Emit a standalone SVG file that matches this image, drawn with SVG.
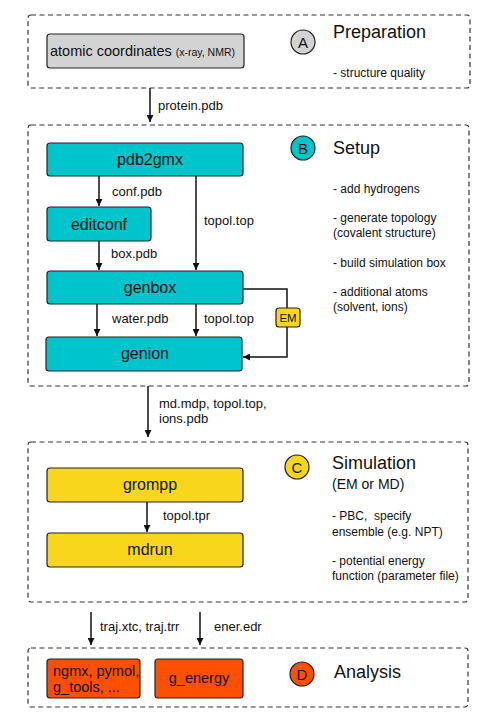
<svg xmlns="http://www.w3.org/2000/svg" width="490" height="725" viewBox="0 0 490 725">
<defs>
<marker id="ah" viewBox="0 0 10 10" refX="10" refY="5" markerWidth="7" markerHeight="7" markerUnits="userSpaceOnUse" orient="auto"><path d="M0,0 L10,5 L0,10 z" fill="#111"/></marker>
<style>
.stage{fill:none;stroke:#333;stroke-width:1.2;stroke-dasharray:5 3.5}
.n{stroke:#222;stroke-width:1.2}
.cyan{fill:#00C4CC}.yel{fill:#F8D61C}.org{fill:#FF5000}.gray{fill:#D3D3D3}
text{font-family:"Liberation Sans",Arial,sans-serif;fill:#111}
.t{font-size:16px;text-anchor:middle}
.lbl{font-size:13px}
.note{font-size:12px}
.head{font-size:18px}
.c{stroke:#111;stroke-width:1.5;fill:none}
.ct{font-size:15px;text-anchor:middle}
</style>
</defs>
<g id="stageA"><rect class="stage" x="28" y="15" width="442" height="73" rx="3"/>
<circle class="n gray" cx="303" cy="42" r="12"/><text class="ct" x="303" y="47.5">A</text>
<text class="head" x="333" y="38">Preparation</text>
<text class="note" x="333" y="77">- structure quality</text></g>
<g id="stageB"><rect class="stage" x="28" y="125" width="441" height="261" rx="3"/>
<circle class="n cyan" cx="303" cy="148" r="12"/><text class="ct" x="303" y="153.5">B</text>
<text class="head" x="333" y="154">Setup</text>
<text class="note" x="333" y="193">- add hydrogens</text>
<text class="note" x="333" y="222">- generate topology</text>
<text class="note" x="333" y="237">(covalent structure)</text>
<text class="note" x="333" y="267">- build simulation box</text>
<text class="note" x="333" y="296">- additional atoms</text>
<text class="note" x="333" y="311">(solvent, ions)</text></g>
<g id="stageC"><rect class="stage" x="28" y="442" width="440" height="160" rx="3"/>
<circle class="n yel" cx="297" cy="467" r="12"/><text class="ct" x="297" y="472.5">C</text>
<text class="head" x="332" y="469">Simulation</text>
<text style="font-size:14px" x="332" y="489">(EM or MD)</text>
<text class="note" x="332" y="520" style="white-space:pre">- PBC,  specify</text>
<text class="note" x="332" y="536">ensemble (e.g. NPT)</text>
<text class="note" x="332" y="565">- potential energy</text>
<text class="note" x="332" y="580">function (parameter file)</text></g>
<g id="stageD"><rect class="stage" x="28" y="648" width="440" height="59" rx="3"/>
<circle class="n org" cx="302" cy="674" r="12"/><text class="ct" x="302" y="679.5">D</text>
<text class="head" x="334" y="678">Analysis</text></g>
<g id="coords"><rect class="n gray" x="47" y="34" width="197" height="34" rx="3"/>
<text x="50" y="56" style="font-size:14.5px">atomic coordinates <tspan style="font-size:10.5px">(x-ray, NMR)</tspan></text></g>
<g id="pdb2gmx"><rect class="n cyan" x="47" y="143" width="196" height="33" rx="3"/><text class="t" x="150" y="164.5">pdb2gmx</text></g>
<g id="editconf"><rect class="n cyan" x="47" y="207" width="104" height="34" rx="3"/><text class="t" x="99" y="229.5">editconf</text></g>
<g id="genbox"><rect class="n cyan" x="47" y="271" width="196" height="33" rx="3"/><text class="t" x="150" y="293">genbox</text></g>
<g id="genion"><rect class="n cyan" x="46" y="337" width="196" height="34" rx="3"/><text class="t" x="145" y="359">genion</text></g>
<g id="grompp"><rect class="n yel" x="47" y="468" width="196" height="34" rx="3"/><text class="t" x="150" y="490">grompp</text></g>
<g id="mdrun"><rect class="n yel" x="47" y="533" width="196" height="34" rx="3"/><text class="t" x="150" y="555">mdrun</text></g>
<g id="tools"><rect class="n org" x="47" y="659" width="93" height="39" rx="3"/>
<text x="53" y="676" style="font-size:14.5px">ngmx, pymol,</text><text x="53" y="692" style="font-size:14.5px">g_tools, ...</text></g>
<g id="genergy"><rect class="n org" x="155" y="659" width="88" height="39" rx="3"/><text style="font-size:14.5px;text-anchor:middle" x="199" y="683">g_energy</text></g>
<g id="connectors">
<path class="c" d="M150,88 V122" marker-end="url(#ah)"/>
<text class="lbl" x="158" y="110">protein.pdb</text>
<path class="c" d="M99,176 V206" marker-end="url(#ah)"/>
<text class="lbl" x="112" y="196">conf.pdb</text>
<path class="c" d="M196,176 V270" marker-end="url(#ah)"/>
<text class="lbl" x="204" y="225">topol.top</text>
<path class="c" d="M99,241 V270" marker-end="url(#ah)"/>
<text class="lbl" x="111" y="258">box.pdb</text>
<path class="c" d="M97,304 V336" marker-end="url(#ah)"/>
<text class="lbl" x="112" y="323">water.pdb</text>
<path class="c" d="M196,304 V336" marker-end="url(#ah)"/>
<text class="lbl" x="204" y="323">topol.top</text>
<path class="c" d="M243,289 H287 V357 H243" marker-end="url(#ah)"/>
<g id="em"><rect class="n yel" x="276" y="308" width="24" height="19" rx="3"/><text x="288" y="322" style="font-size:11.5px;text-anchor:middle">EM</text></g>
<path class="c" d="M148,386 V437" marker-end="url(#ah)"/>
<text class="lbl" x="159" y="408">md.mdp, topol.top,</text>
<text class="lbl" x="159" y="423">ions.pdb</text>
<path class="c" d="M147,502 V532" marker-end="url(#ah)"/>
<text class="lbl" x="163" y="520">topol.tpr</text>
<path class="c" d="M91,612 V645" marker-end="url(#ah)"/>
<text class="lbl" x="100" y="631">traj.xtc, traj.trr</text>
<path class="c" d="M200,612 V645" marker-end="url(#ah)"/>
<text class="lbl" x="214" y="631">ener.edr</text>
</g>
</svg>
